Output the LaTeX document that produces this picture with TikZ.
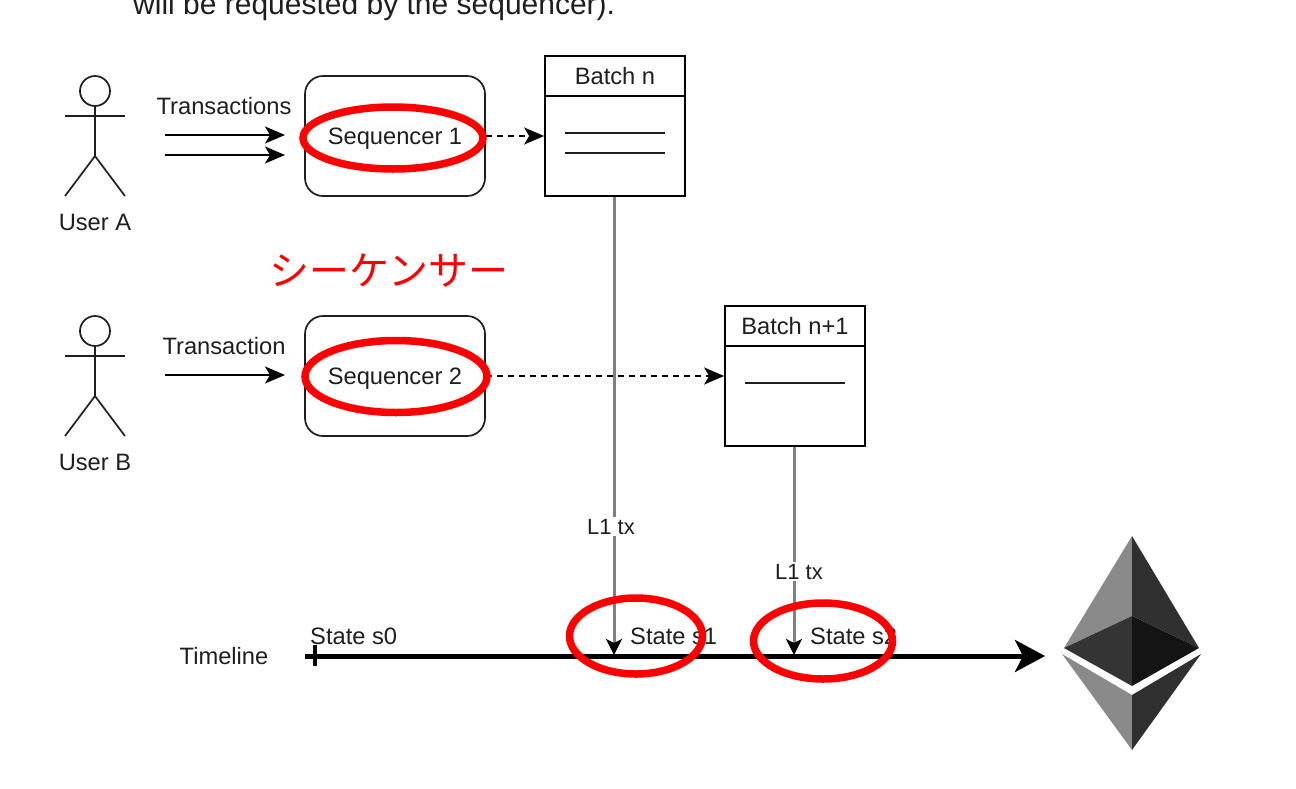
\documentclass[tikz,border=0pt]{standalone}
\usepackage{fontspec}
\setmainfont{Liberation Sans}
\newfontfamily\cjkjp{Noto Sans CJK JP}
\usepackage{xcolor}
\definecolor{InkDark}{RGB}{30, 30, 30}
\definecolor{MarkRed}{RGB}{255, 0, 0}
\definecolor{LineGray}{RGB}{128, 128, 128}
\definecolor{EthLight}{RGB}{138, 138, 138}
\definecolor{EthDark}{RGB}{48, 48, 48}
\definecolor{EthMid}{RGB}{52, 52, 52}
\definecolor{EthBlack}{RGB}{20, 20, 20}
\usetikzlibrary{shapes.geometric, arrows.meta, positioning}

\begin{document}
\begin{tikzpicture}[
        x=1pt, y=-1pt,
        caption/.style={inner sep=0pt, text=InkDark, font=\fontsize{23.7}{26}\selectfont},
        seqbox/.style={rectangle, draw=InkDark, line width=1.7pt, rounded corners=18pt, minimum width=180pt, minimum height=120pt, caption, text height=16pt, text depth=0pt},
        batchhead/.style={rectangle, draw=black, line width=1.7pt, minimum width=140pt, minimum height=40pt, caption},
        batchbody/.style={rectangle, draw=black, line width=1.7pt, minimum width=140pt, minimum height=100pt, inner sep=0pt},
        actor/.style={draw=InkDark, line width=1.7pt},
        head/.style={circle, draw=InkDark, line width=1.7pt, minimum size=30pt, inner sep=0pt},
        arrow/.style={-{Stealth[length=20pt, width=17pt, inset=5pt]}, line width=1.7pt, black},
        dasharrow/.style={arrow, dash pattern=on 6pt off 5pt},
        entry/.style={InkDark, line width=1.7pt},
        txarrow/.style={-{Stealth[length=16pt, width=16pt, inset=4pt, black]}, line width=3pt, LineGray},
        txlabel/.style={fill=white, inner sep=2pt, text=InkDark, font=\fontsize{22}{24}\selectfont},
        redring/.style={ellipse, draw=MarkRed, line width=7.5pt, inner sep=0pt}
    ]
        \useasboundingbox (0,0) rectangle (1296,788);
        \clip (0,0) rectangle (1296,788);

        % Nodes
        \node[anchor=base west, inner sep=0pt, text=InkDark, font=\fontsize{30}{32}\selectfont] (intro) at (133,14) {will be requested by the sequencer).};

        \node[head] (heada) at (95,91) {};
        \node[caption] (usera) at (95,222) {User A};
        \node[head] (headb) at (95,331) {};
        \node[caption] (userb) at (95,462) {User B};

        \node[caption] (txs) at (224,106) {Transactions};
        \node[caption] (tx) at (224,346) {Transaction};
        \node[seqbox] (seqone) at (395,136) {Sequencer 1};
        \node[seqbox] (seqtwo) at (395,376) {Sequencer 2};

        \node[batchhead] (batchn) at (615,76) {Batch n};
        \node[batchbody, below=-1.7pt of batchn] (bodyn) {};
        \node[batchhead] (batchnext) at (795,326) {Batch n+1};
        \node[batchbody, below=-1.7pt of batchnext] (bodynext) {};

        \node[caption] (timeline) at (224,656) {Timeline};
        \node[caption, anchor=base west] (states0) at (310,644) {State s0};
        \node[caption, anchor=base west] (states1) at (630,644) {State s1};
        \node[caption, anchor=base west] (states2) at (810,644) {State s2};

        \node[inner sep=0pt, text=MarkRed, font=\fontsize{40}{42}\selectfont\cjkjp] (sequencerjp) at (389,270.5) {シーケンサー};

        % Free ends
        \coordinate (txaa) at (165,135);
        \coordinate (txab) at (285,135);
        \coordinate (txba) at (165,155);
        \coordinate (txbb) at (285,155);
        \coordinate (txca) at (165,375);
        \coordinate (txcb) at (285,375);
        \coordinate (tlstart) at (305,656);
        \coordinate (tlend) at (1045,656);
        \coordinate (hitn) at (614,655);
        \coordinate (hitnext) at (794,655);

        % Stick figures
        \draw[actor] (heada.south) -- ++(0,49.2) -- ++(-30,40) ++(30,-40) -- ++(30,40);
        \draw[actor] (65,116) -- (125,116);
        \draw[actor] (headb.south) -- ++(0,49.2) -- ++(-30,40) ++(30,-40) -- ++(30,40);
        \draw[actor] (65,356) -- (125,356);

        % Batch entries
        \draw[entry] (565,133) -- (665,133);
        \draw[entry] (565,153) -- (665,153);
        \draw[entry] (745,383) -- (845,383);

        % Connections
        \draw[arrow] (txaa) -- (txab);
        \draw[arrow] (txba) -- (txbb);
        \draw[arrow] (txca) -- (txcb);
        \draw[dasharrow] (seqone.east) -- (seqone.east -| bodyn.west);
        \draw[dasharrow] (seqtwo.east) -- (seqtwo.east -| bodynext.west);
        \draw[line width=5pt, black, -{Stealth[length=30pt, width=32pt, inset=8pt]}] (tlstart) -- (tlend);
        \draw[line width=4pt, black] (315,645) -- (315,666);
        \draw[txarrow] (bodyn.south -| hitn) -- (hitn) node[txlabel, pos=0.72, xshift=-3pt] (ltxn) {L1 tx};
        \draw[txarrow] (bodynext.south -| hitnext) -- (hitnext) node[txlabel, pos=0.6, xshift=5pt] (ltxnext) {L1 tx};

        % Ethereum mark
        \fill[EthLight] (1132,536) -- (1064,648) -- (1132,616) -- cycle;
        \fill[EthDark] (1132,536) -- (1199,648) -- (1132,616) -- cycle;
        \fill[EthMid] (1132,616) -- (1064,648) -- (1132,686) -- cycle;
        \fill[EthBlack] (1132,616) -- (1199,648) -- (1132,686) -- cycle;
        \fill[EthLight] (1062,654) -- (1132,695) -- (1132,750) -- cycle;
        \fill[EthDark] (1201,654) -- (1132,695) -- (1132,750) -- cycle;

        % Red rings
        \node[redring, minimum width=180pt, minimum height=62pt] (ringone) at (393,138) {};
        \node[redring, minimum width=182pt, minimum height=72pt] (ringtwo) at (396,376.5) {};
        \node[redring, minimum width=133pt, minimum height=76pt] (rings1) at (636,636) {};
        \node[redring, minimum width=139pt, minimum height=76pt] (rings2) at (823,641) {};

    \end{tikzpicture}
\end{document}
